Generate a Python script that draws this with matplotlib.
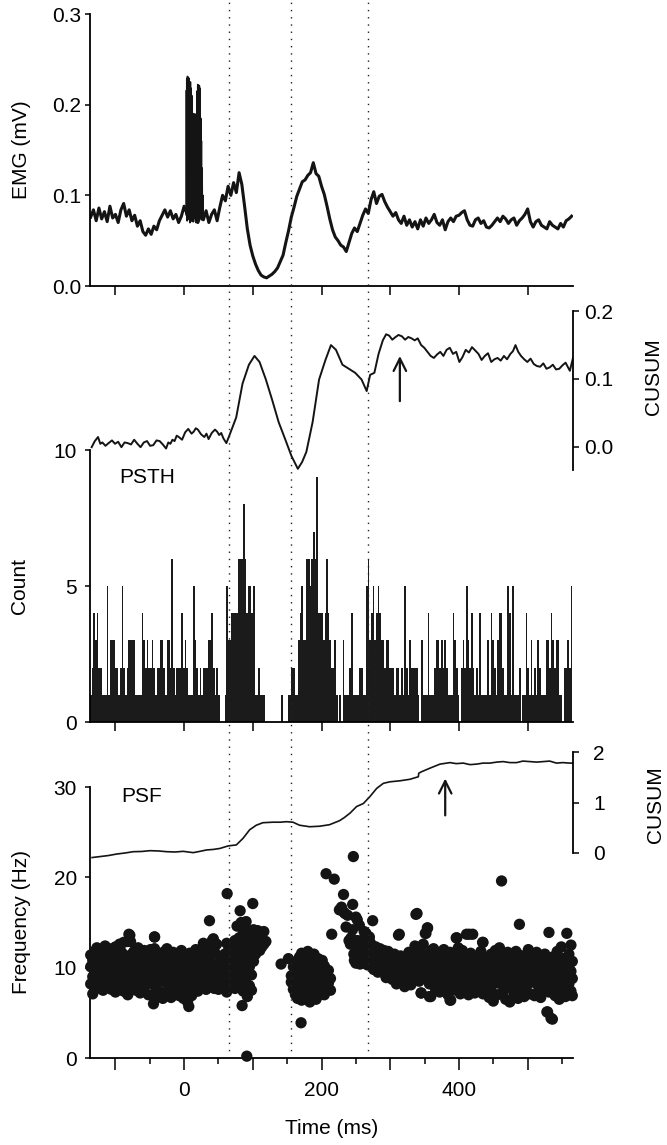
import numpy as np
import matplotlib
matplotlib.use('Agg')
import matplotlib.pyplot as plt
from matplotlib.ticker import FixedLocator, FixedFormatter

plt.rcParams['font.family'] = ['Liberation Sans', 'DejaVu Sans']
plt.rcParams['font.size'] = 15

W, H = 667, 1145
T_MIN, T_MAX = -137, 566
INK = '#141414'

# vertical reference lines (ms)
marker_times = [66, 156, 268]

# EMG average, one value every 4 ms from -136 ms (in uV -> mV later)
emg_t0, emg_step = -136, 4
emg_uv = [76, 84, 72, 86, 74, 82, 71, 88, 75, 79, 70, 84, 91, 77, 84, 72, 78, 66, 72, 60,
          56, 63, 57, 66, 62, 72, 78, 84, 76, 83, 74, 79, 70, 77, 88, 80, 75, 72, 82, 70,
          79, 73, 83, 70, 79, 84, 72, 87, 100, 94, 110, 100, 114, 103, 125, 112, 88, 63, 45, 33,
          24, 17, 12, 10, 9, 11, 13, 16, 20, 27, 34, 48, 61, 76, 87, 99, 107, 115, 117, 122,
          125, 136, 124, 121, 110, 101, 88, 74, 62, 54, 50, 45, 43, 38, 48, 58, 64, 60, 69, 78,
          85, 80, 95, 104, 91, 99, 101, 93, 87, 82, 77, 81, 73, 69, 77, 67, 73, 65, 71, 63,
          73, 66, 75, 69, 73, 79, 70, 67, 73, 62, 71, 75, 71, 77, 78, 81, 83, 73, 67, 66,
          73, 75, 69, 72, 65, 64, 67, 71, 75, 71, 77, 74, 69, 73, 75, 67, 72, 75, 79, 85,
          71, 65, 71, 73, 67, 65, 63, 71, 67, 65, 63, 69, 65, 72, 74, 77]

# stimulus artefact burst (1 ms steps from 3 ms): peaks and troughs
burst_t0 = 3
burst_hi = [0.215, 0.228, 0.231, 0.226, 0.229, 0.222, 0.225, 0.218, 0.210, 0.190,
            0.188, 0.190, 0.187, 0.189, 0.186, 0.190, 0.215, 0.222, 0.219, 0.221,
            0.218, 0.185, 0.160, 0.130, 0.100]
burst_lo = [0.078, 0.072, 0.080, 0.074, 0.085, 0.070, 0.076, 0.082, 0.073, 0.079,
            0.071, 0.084, 0.075, 0.078, 0.070, 0.081, 0.074, 0.077, 0.072, 0.083,
            0.075, 0.079, 0.073, 0.080, 0.076]

# CUSUM of EMG
cusum_emg_t = [-134.6, -130, -125.3, -122, -119, -114.5, -110, -105, -100.6, -96, -91.3, -86.7,
               -82, -77.3, -72.7, -68, -63.4, -58.7, -54, -49.5, -44.9, -40.2, -35.6, -31,
               -26.3, -23, -20, -17, -13.9, -10.8, -7.7, -3, 1.5, 6, 10.8, 14, 17, 20, 24.7,
               29.4, 32.5, 35.6, 40.2, 44.9, 48, 51, 54, 57.2, 61.5,
               66.5, 75.8, 85, 94.3, 102.4, 109.8, 119, 128.4, 137.6, 147, 156.2, 165.5, 171.7,
               177.9, 187, 196.4, 205.7, 213.7, 221, 230.4, 239.7, 249, 258.3, 265.7, 270.7,
               276.9, 283, 289.2, 294, 298.5, 303, 307.8, 312, 317, 321.6, 326.3, 331, 335.6,
               340, 345, 349.6, 354.2, 358.8, 363.5, 368, 372.8, 377.4, 382, 386.7, 391.3, 396,
               400.6, 405, 409.9, 414.5, 419, 423.7, 428.4, 433, 437.7, 442.3, 447, 451.6,
               456.2, 460.8, 465.5, 470, 474.9, 478.6, 482.3, 486.3, 490.3, 495, 499.6, 504.2,
               508.9, 513.5, 518.2, 522.8, 527.4, 532, 536.7, 541.3, 546, 550.6, 555.2, 561.4,
               566]
cusum_emg_v = [-0.001, 0.008, 0.014, 0.004, 0.006, 0.001, 0.005, 0.009, 0.004, 0.007, -0.001,
               0.006, 0.005, 0.003, 0.010, 0.004, -0.001, 0.006, 0.008, 0.001, 0.002, 0.009,
               0.008, 0.003, -0.003, 0.006, 0.004, 0.010, 0.008, 0.016, 0.014, 0.010, 0.021,
               0.026, 0.019, 0.022, 0.027, 0.025, 0.018, 0.014, 0.019, 0.011, 0.020, 0.025,
               0.022, 0.017, 0.020, 0.012, 0.005,
               0.018, 0.043, 0.093, 0.121, 0.134, 0.125, 0.099, 0.068, 0.036, 0.011, -0.014,
               -0.033, -0.023, -0.008, 0.036, 0.099, 0.128, 0.150, 0.143, 0.121, 0.115, 0.109,
               0.099, 0.082, 0.106, 0.109, 0.137, 0.157, 0.166, 0.164, 0.158, 0.162, 0.165,
               0.163, 0.158, 0.162, 0.160, 0.157, 0.160, 0.150, 0.146, 0.140, 0.134, 0.131,
               0.136, 0.140, 0.134, 0.143, 0.146, 0.137, 0.140, 0.125, 0.132, 0.143, 0.139,
               0.147, 0.142, 0.137, 0.128, 0.134, 0.138, 0.125, 0.129, 0.131, 0.127, 0.134,
               0.129, 0.137, 0.141, 0.150, 0.140, 0.134, 0.129, 0.125, 0.130, 0.122, 0.119,
               0.118, 0.123, 0.115, 0.117, 0.121, 0.114, 0.115, 0.120, 0.124, 0.112, 0.131]
arrow_emg = (314, 0.063, 0.138)

# PSTH counts from PSTH_START to PSTH_END
PSTH_START, PSTH_END = -137, 565
psth_counts = [
    1, 2, 4, 3, 4, 2, 2, 1, 1, 1, 5, 1, 3, 3, 3, 2, 2, 1, 2, 5, 2, 1, 2, 3, 3, 3, 3, 1, 1, 1,
    1, 4, 3, 2, 3, 2, 2, 3, 2, 1, 2, 2, 3, 3, 2, 1, 3, 3, 2, 6, 2, 1, 2, 2, 2, 4, 2, 3, 2, 1,
    1, 1, 5, 3, 2, 1, 2, 1, 2, 2, 2, 3, 3, 4, 2, 1, 2, 1, 0, 0, 0, 1, 5, 3, 3, 4, 4, 4, 4, 6,
    6, 6, 8, 6, 4, 5, 5, 4, 5, 1, 1, 2, 1, 1, 1, 0, 0, 0, 0, 0, 0, 0, 0, 0, 0, 1, 0, 0, 0, 1,
    1, 2, 2, 1, 1, 3, 4, 5, 3, 3, 6, 6, 5, 6, 7, 6, 9, 4, 4, 4, 3, 4, 6, 4,
    3, 2, 2, 3, 1, 0, 1, 0, 3, 1, 1, 1, 2, 4, 1, 1, 1, 1, 2, 2, 1, 1, 5, 6, 3, 4, 5, 3, 4, 5,
    4, 3, 3, 2, 3, 3, 2, 2, 2, 1, 2, 2, 1, 2, 1, 5, 2, 1, 3, 2, 2, 2, 2, 1, 0, 3, 1, 1, 1, 4,
    1, 1, 1, 2, 3, 3, 2, 3, 2, 3, 2, 1, 1, 1, 4, 3, 2, 1, 0, 2, 3, 2, 5, 3, 2, 4, 2, 1, 2, 1,
    4, 1, 1, 1, 1, 3, 1, 4, 3, 2, 1, 3, 4, 4, 2, 1, 1, 5, 4, 1, 5, 1, 1, 1, 2, 0, 1, 1, 4, 2,
    1, 3, 1, 2, 1, 3, 2, 1, 1, 1, 3, 3, 2, 4, 3, 2, 3, 3, 1, 1, 0, 2, 2, 3, 2, 5]

# PSF: instantaneous frequency (Hz) against time (ms), grouped by time
psf_columns = [
    (-136, [10.1, 8.2, 11.4]), (-133, [9.0, 7.1, 10.8]), (-130, [11.8, 8.6, 9.7]),
    (-127, [7.7, 10.4, 12.2]), (-124, [9.3, 11.0, 8.0]), (-121, [10.6, 8.9, 12.0]),
    (-118, [7.5, 9.8, 11.5]), (-115, [8.4, 10.9, 12.4]), (-112, [9.1, 7.9, 11.2]),
    (-109, [10.3, 8.7, 12.1]), (-106, [11.6, 9.4, 7.6]), (-103, [8.1, 10.0, 11.9]),
    (-100, [9.6, 7.3, 12.3]), (-97, [10.7, 8.5, 11.1]), (-94, [9.2, 7.8, 12.6]),
    (-91, [8.8, 10.2, 11.7]), (-88, [7.4, 9.9, 12.8]), (-85, [10.5, 8.3, 11.3]),
    (-82, [9.0, 7.0, 12.9]), (-79, [8.6, 10.8, 13.6]), (-76, [9.7, 11.5, 7.9]),
    (-73, [8.0, 10.1, 11.8]), (-70, [9.4, 7.5, 11.0]), (-67, [10.9, 8.7, 12.2]),
    (-64, [9.1, 7.2, 10.5]), (-61, [8.4, 11.4, 9.8]), (-58, [7.8, 10.3, 11.9]),
    (-55, [9.6, 8.2, 10.7]), (-52, [7.0, 11.2, 9.0]), (-49, [8.8, 10.0, 12.0]),
    (-46, [6.9, 9.3, 11.4]), (-43, [8.0, 10.6, 13.4]), (-40, [7.6, 9.5, 11.1]),
    (-37, [8.9, 10.2, 6.8]), (-34, [7.3, 9.7, 11.6]), (-31, [8.5, 10.9, 6.6]),
    (-28, [9.1, 7.1, 11.8]), (-25, [8.3, 10.4, 12.1]), (-22, [9.8, 7.4, 11.0]),
    (-19, [8.7, 10.1, 6.7]), (-16, [9.4, 11.7, 7.9]), (-13, [8.1, 10.6, 11.5]),
    (-10, [9.9, 7.2, 11.3]), (-7, [8.6, 10.8, 6.9]), (-4, [9.3, 7.8, 11.9]),
    (-1, [8.0, 10.3, 6.6]), (2, [9.6, 7.5, 11.1]), (5, [8.8, 10.5, 6.2]),
    (8, [9.2, 7.0, 11.6]), (11, [8.4, 10.0, 6.9]), (14, [9.7, 7.7, 11.2]),
    (17, [8.2, 10.9, 12.0]), (20, [9.0, 7.4, 10.4]), (23, [8.6, 11.5, 7.9]),
    (26, [9.8, 8.1, 10.7]), (29, [8.3, 10.2, 12.2]), (32, [9.4, 7.6, 11.4]),
    (35, [8.9, 10.6, 12.5]), (38, [7.9, 9.6, 11.0]), (41, [8.5, 10.1, 13.0]),
    (44, [9.2, 7.7, 11.8]), (47, [8.0, 9.9, 12.6]), (50, [8.7, 10.4, 7.6]),
    (53, [9.1, 8.2, 11.2]), (56, [8.4, 9.6, 7.8]),
    (59, [9.0, 10.2, 7.6, 11.5]), (62, [8.3, 9.8, 11.0, 7.3]), (65, [10.6, 8.8, 12.0, 9.4]),
    (68, [9.1, 11.3, 7.9, 10.0]), (71, [10.4, 12.4, 8.5, 9.6]), (74, [11.0, 9.3, 13.0, 7.7]),
    (77, [10.2, 12.1, 8.8, 14.6]), (80, [11.6, 9.7, 13.3, 8.1]), (83, [10.8, 12.7, 15.0, 9.0]),
    (86, [11.4, 13.8, 9.8, 7.4]), (89, [12.2, 10.4, 14.3, 8.6]), (92, [11.0, 13.1, 9.4, 6.8]),
    (95, [12.6, 10.1, 14.0, 8.0]), (98, [11.8, 13.5, 9.2, 7.5]), (101, [12.9, 10.7, 14.2]),
    (104, [11.5, 13.3, 12.4]), (107, [14.1, 12.0, 13.6]), (110, [12.8, 11.9]),
    (113, [13.9, 12.3]), (116, [12.6, 14.0]), (119, [12.9]),
    (156, [8.4, 9.1]), (159, [7.6, 8.9, 10.1]), (162, [8.2, 9.5, 7.0]),
    (165, [10.8, 7.8, 8.7, 6.6]), (168, [9.3, 11.2, 7.3, 8.1]), (171, [8.6, 10.0, 6.4, 11.6]),
    (174, [9.7, 7.5, 10.9, 8.3]), (177, [8.0, 11.4, 6.6, 9.2]), (180, [10.4, 7.2, 8.8, 11.8]),
    (183, [9.0, 6.2, 10.7, 7.9]), (186, [8.5, 11.1, 9.6, 6.8]), (189, [10.1, 7.6, 8.9, 11.5]),
    (192, [9.3, 6.5, 10.6, 8.2]), (195, [7.9, 11.0, 9.7, 6.9]), (198, [8.6, 10.3, 7.3, 9.1]),
    (201, [9.8, 7.7, 10.8, 8.4]), (204, [8.1, 9.4, 7.0, 10.2]), (207, [9.0, 7.8, 8.6]),
    (210, [8.3, 9.7]), (213, [8.8, 7.5]),
    (258, [13.0, 11.2, 12.2]), (261, [11.6, 12.8, 10.5]), (264, [12.4, 10.9, 13.5]),
    (267, [11.1, 12.0, 10.3]), (270, [11.8, 10.6, 12.9]), (273, [10.2, 11.5, 12.5]),
    (276, [11.9, 10.4, 9.8]), (279, [11.0, 12.3, 10.0]), (282, [10.5, 11.7, 9.5]),
    (285, [11.3, 10.1, 12.1]), (288, [9.9, 11.0, 10.6]), (291, [10.8, 9.4, 11.9]),
    (294, [10.2, 11.4, 8.9]), (297, [9.7, 10.9, 11.8]), (300, [10.4, 9.1, 11.2]),
    (303, [9.5, 10.7, 8.7]), (306, [10.1, 11.5, 9.0]), (309, [9.3, 10.5, 8.2]),
    (312, [10.8, 9.6, 13.6]), (315, [9.0, 10.2, 11.3]), (318, [9.8, 8.4, 10.9]),
    (321, [10.5, 9.2, 7.9]), (324, [9.6, 11.0, 8.6]), (327, [10.3, 8.9, 11.7]),
    (330, [9.1, 10.8, 8.1]), (333, [10.0, 11.6, 9.4]), (336, [8.7, 10.6, 12.4]),
    (339, [9.9, 11.2, 16.0]), (342, [10.4, 8.5, 11.8]), (345, [9.2, 7.2, 10.9]),
    (348, [11.5, 9.7, 12.6]), (351, [10.1, 8.8, 13.8]), (354, [9.4, 11.3, 14.4]),
    (357, [10.7, 8.2, 6.8]), (360, [9.0, 11.9, 10.3]), (363, [10.5, 8.6, 12.1]),
    (366, [9.6, 11.1, 7.6]), (369, [10.2, 8.0, 11.7]), (372, [9.3, 10.8, 7.3]),
    (375, [11.4, 8.9, 10.0]), (378, [9.8, 7.7, 12.0]), (381, [10.6, 8.4, 11.2]),
    (384, [9.1, 10.3, 7.0]), (387, [11.7, 8.7, 6.4]), (390, [10.0, 9.4, 7.9]),
    (393, [8.6, 11.0, 10.4]), (396, [9.7, 7.5, 13.3]), (399, [10.9, 8.3, 12.2]),
    (402, [9.2, 11.5, 7.1]), (405, [10.4, 8.8, 11.9]), (408, [9.5, 7.4, 10.7]),
    (411, [8.2, 11.2, 13.7]), (414, [10.1, 9.0, 7.0]), (417, [9.4, 11.6, 8.4]),
    (420, [10.7, 7.8, 13.7]), (423, [8.9, 10.2, 7.2]), (426, [9.8, 11.3, 8.1]),
    (429, [10.5, 7.6, 9.2]), (432, [8.6, 11.8, 10.0]), (435, [9.9, 7.1, 12.8]),
    (438, [10.8, 8.4, 9.5]), (441, [9.0, 11.1, 7.7]), (444, [10.3, 8.0, 6.7]),
    (447, [9.4, 11.5, 7.4]), (450, [10.6, 8.7, 6.3]), (453, [9.1, 10.0, 11.9]),
    (456, [8.3, 11.2, 7.0]), (459, [9.7, 10.4, 12.2]), (462, [8.8, 19.6, 10.9]),
    (465, [9.5, 7.5, 11.4]), (468, [10.2, 8.1, 6.5]), (471, [9.0, 11.7, 7.8]),
    (474, [10.8, 8.5, 6.2]), (477, [9.3, 10.1, 11.3]), (480, [8.6, 9.9, 7.2]),
    (483, [10.5, 8.0, 11.8]), (486, [9.2, 10.9, 6.6]), (488, [14.8, 11.4]),
    (489, [8.4, 10.2]), (492, [9.7, 7.6, 11.0]), (495, [8.9, 10.6, 6.8]),
    (498, [9.4, 11.3, 7.9]), (501, [10.1, 8.3, 12.0]), (504, [8.7, 9.8, 7.1]),
    (507, [10.4, 8.5, 11.2]), (510, [9.0, 10.9, 6.9]), (513, [8.2, 9.6, 11.7]),
    (516, [10.3, 7.4, 8.8]), (519, [9.1, 11.0, 6.7]), (522, [8.5, 10.0, 7.7]),
    (525, [9.8, 8.1, 11.5]), (528, [8.7, 10.5, 5.1]), (531, [9.4, 7.3, 13.9]),
    (534, [10.6, 8.4, 4.4]), (537, [9.0, 11.2, 7.6]), (540, [8.3, 10.1, 6.9]),
    (543, [9.7, 7.8, 11.8]), (546, [8.9, 10.7, 6.5]), (549, [10.2, 7.2, 12.3]),
    (552, [9.1, 8.6, 11.0]), (555, [10.4, 7.9, 6.8]), (557, [13.8, 9.3]),
    (560, [8.2, 11.5, 10.0]), (563, [9.6, 7.4, 12.5]), (565, [8.8, 10.7, 6.9]),
]
# sparse spikes: early excitation, silent period, late burst and outliers
psf_extra_t = [62.6, 36.9, 81.5, 99.9, 91.2, 90.2, 84.4, 6.8, -44.6, -80.4, -78, -43.1, -43.1,
               28, 42.5, 47, 62, 141.1, 151.8, 170.2,
               206.6, 218.5, 246.3, 232, 245.3, 226, 231.8, 214.8, 250, 252, 235.7, 245, 250,
               255, 264.7, 269.6, 259.9, 247.8, 240, 238, 242, 250, 253, 256, 247, 243, 234,
               229, 252, 257, 262, 266, 271, 276,
               274.4, 337.4, 354.4, 313.2, 352, 345, 359, 388, 397, 415, 434.4, 536, 529]
psf_extra_f = [18.2, 15.2, 16.3, 17.1, 0.2, 15.1, 5.8, 5.7, 6.0, 13.7, 12.9, 13.4, 12.1,
               12.7, 13.2, 12.6, 12.7, 10.4, 11.0, 3.9,
               20.4, 19.8, 22.3, 18.1, 17.0, 16.4, 16.2, 13.7, 15.6, 15.3, 14.5, 14.2, 12.3,
               14.7, 13.8, 13.4, 12.0, 10.8, 13.0, 15.8, 12.6, 10.5, 10.7, 10.4, 11.5, 13.3,
               16.0, 16.7, 13.0, 12.5, 14.0, 13.0, 12.7, 11.4,
               15.2, 15.9, 14.4, 13.7, 13.8, 7.2, 6.8, 6.4, 13.3, 13.7, 12.8, 4.3, 5.1]

# CUSUM of PSF
cusum_psf_t = [-134, -122, -110, -98, -86, -74, -62, -49.7, -37, -25.5, -13, -1.3, 13.2, 22,
               32.6, 42, 52, 64, 76, 85.7, 95.4, 105, 114.7, 129.3, 140, 148.7, 158.4, 168,
               182.6, 197, 211.6, 226.2, 233, 241.5, 251, 260.9, 270.6, 280.3, 290, 299.7,
               314.2, 328.8, 340.9, 341.5, 345.7, 357.8, 372.4, 387, 396, 406.3, 416, 425.7,
               435, 445.1, 455, 464.5, 474, 483.9, 493, 503.3, 513, 522.7, 532, 542, 551,
               561.5, 566]
cusum_psf_v = [-0.09, -0.07, -0.05, -0.02, 0.0, 0.026, 0.03, 0.046, 0.04, 0.026, 0.02, 0.033,
               0.007, 0.03, 0.06, 0.07, 0.09, 0.14, 0.16, 0.29, 0.46, 0.55, 0.60, 0.61, 0.61,
               0.62, 0.61, 0.55, 0.52, 0.53, 0.56, 0.64, 0.70, 0.79, 0.92, 0.98, 1.12, 1.28,
               1.38, 1.41, 1.43, 1.46, 1.51, 1.58, 1.61, 1.68, 1.76, 1.79, 1.77, 1.78, 1.75,
               1.76, 1.78, 1.78, 1.80, 1.81, 1.79, 1.79, 1.82, 1.81, 1.80, 1.81, 1.82, 1.78,
               1.79, 1.78, 1.78]
arrow_psf = (380, 0.69, 1.53)


def box(x0, y0, x1, y1):
    return [x0 / W, 1 - y1 / H, (x1 - x0) / W, (y1 - y0) / H]


def pt(px):
    return px * 0.72


fig = plt.figure(figsize=(W / 100, H / 100), dpi=100)
major_x = list(range(-100, 501, 100))

# ---- EMG
ax1 = fig.add_axes(box(90, 14, 573, 286))
emg_t = emg_t0 + emg_step * np.arange(len(emg_uv))
ax1.plot(emg_t, np.array(emg_uv) / 1000, color=INK, lw=2.2)
bt = burst_t0 + np.arange(len(burst_hi))
burst_t = np.ravel(np.column_stack([bt, bt + 0.5]))
burst_v = np.ravel(np.column_stack([burst_hi, burst_lo]))
ax1.plot(burst_t, burst_v, color=INK, lw=1.3)
ax1.set_xlim(T_MIN, T_MAX)
ax1.set_ylim(0, 0.3)
ax1.set_yticks([0, 0.1, 0.2, 0.3])
ax1.set_yticklabels(['0.0', '0.1', '0.2', '0.3'])
ax1.xaxis.set_major_locator(FixedLocator(major_x))
ax1.tick_params(axis='x', length=pt(9), width=1.1, labelbottom=False)
ax1.tick_params(axis='y', length=pt(5), width=1.1, pad=pt(4))

# ---- CUSUM of EMG
ax2 = fig.add_axes(box(90, 300, 573, 472))
ax2.plot(cusum_emg_t, cusum_emg_v, color=INK, lw=1.4)
ax2.annotate('', xy=(arrow_emg[0], arrow_emg[2]), xytext=(arrow_emg[0], arrow_emg[1]),
             arrowprops=dict(arrowstyle='->,head_length=0.6,head_width=0.3', lw=1.6, color=INK))
ax2.set_xlim(T_MIN, T_MAX)
ax2.set_ylim(-(472 - 446.5) / 676, (446.5 - 300) / 676)
for s in ['left', 'top', 'bottom']:
    ax2.spines[s].set_visible(False)
ax2.spines['right'].set_bounds(-0.035, 0.2)
ax2.yaxis.tick_right()
ax2.set_yticks([0, 0.1, 0.2])
ax2.set_yticklabels(['0.0', '0.1', '0.2'])
ax2.set_xticks([])
ax2.tick_params(axis='y', length=pt(6), width=1.1, pad=pt(5))

# ---- PSTH
ax3 = fig.add_axes(box(90, 450, 573, 722))
edges = np.linspace(PSTH_START, PSTH_END, len(psth_counts) + 1)
ax3.stairs(psth_counts, edges, fill=True, color='#1b1b1b', lw=0)
ax3.set_xlim(T_MIN, T_MAX)
ax3.set_ylim(0, 10)
ax3.set_yticks([0, 5, 10])
ax3.xaxis.set_major_locator(FixedLocator(major_x))
ax3.tick_params(axis='x', length=pt(9), width=1.1, labelbottom=False)
ax3.tick_params(axis='y', length=pt(5), width=1.1, pad=pt(8))
ax3.text(-54, 9.0, 'PSTH', ha='center', va='center', fontsize=15)

# ---- PSF
ax4 = fig.add_axes(box(90, 745, 573, 1058))
psf_t = [t for t, fs in psf_columns for f in fs] + psf_extra_t
psf_f = [f for t, fs in psf_columns for f in fs] + psf_extra_f
ax4.scatter(psf_t, psf_f, s=66, color=INK, edgecolors='none', clip_on=False, zorder=3)
ax4.set_xlim(T_MIN, T_MAX)
ax4.set_ylim(0, 313 / 9.033)
ax4.spines['left'].set_bounds(0, 30)
ax4.set_yticks([0, 10, 20, 30])
ax4.xaxis.set_major_locator(FixedLocator(major_x))
ax4.xaxis.set_major_formatter(FixedFormatter(['', '0', '', '200', '', '400', '']))
ax4.xaxis.set_minor_locator(FixedLocator(list(range(-50, 551, 100))))
ax4.tick_params(axis='x', which='major', length=pt(12), width=1.1, pad=pt(11))
ax4.tick_params(axis='x', which='minor', length=pt(6), width=1.1)
ax4.tick_params(axis='y', length=pt(5), width=1.1, pad=pt(8))
ax4.text(-61.5, 29.0, 'PSF', ha='center', va='center', fontsize=15)

ax4r = ax4.twinx()
ax4r.plot(cusum_psf_t, cusum_psf_v, color=INK, lw=1.2)
ax4r.annotate('', xy=(arrow_psf[0], arrow_psf[2]), xytext=(arrow_psf[0], arrow_psf[1]),
              arrowprops=dict(arrowstyle='->,head_length=0.6,head_width=0.3', lw=1.6, color=INK))
ax4r.set_ylim(-(1058 - 853) / 50.5, (853 - 745) / 50.5)
for s in ['left', 'top', 'bottom']:
    ax4r.spines[s].set_visible(False)
ax4r.spines['right'].set_bounds(0, 2)
ax4r.set_yticks([0, 1, 2])
ax4r.tick_params(axis='y', length=pt(6), width=1.1, pad=pt(14))

for ax in (ax1, ax3, ax4):
    ax.spines['top'].set_visible(False)
    ax.spines['right'].set_visible(False)
for ax in (ax1, ax2, ax3, ax4, ax4r):
    ax.patch.set_visible(False)
    for s in ax.spines.values():
        s.set_linewidth(1.3)

# dotted reference lines through all panels
ax0 = fig.add_axes(box(90, 0, 573, 1058))
ax0.set_xlim(T_MIN, T_MAX)
ax0.set_ylim(0, 1)
ax0.axis('off')
for t in marker_times:
    ax0.axvline(t, color='#222222', lw=1.0, linestyle=(0, (1, 4.2)))

# axis labels
def label(x, y, s, rot=90):
    fig.text(x / W, 1 - y / H, s, rotation=rot, ha='center', va='center', fontsize=15)

label(22, 150, 'EMG (mV)')
label(20, 586, 'Count')
label(22, 922, 'Frequency (Hz)')
label(653, 377, 'CUSUM')
label(655, 805, 'CUSUM')
label(332, 1128, 'Time (ms)', rot=0)

fig.savefig('out.png', dpi=100)
